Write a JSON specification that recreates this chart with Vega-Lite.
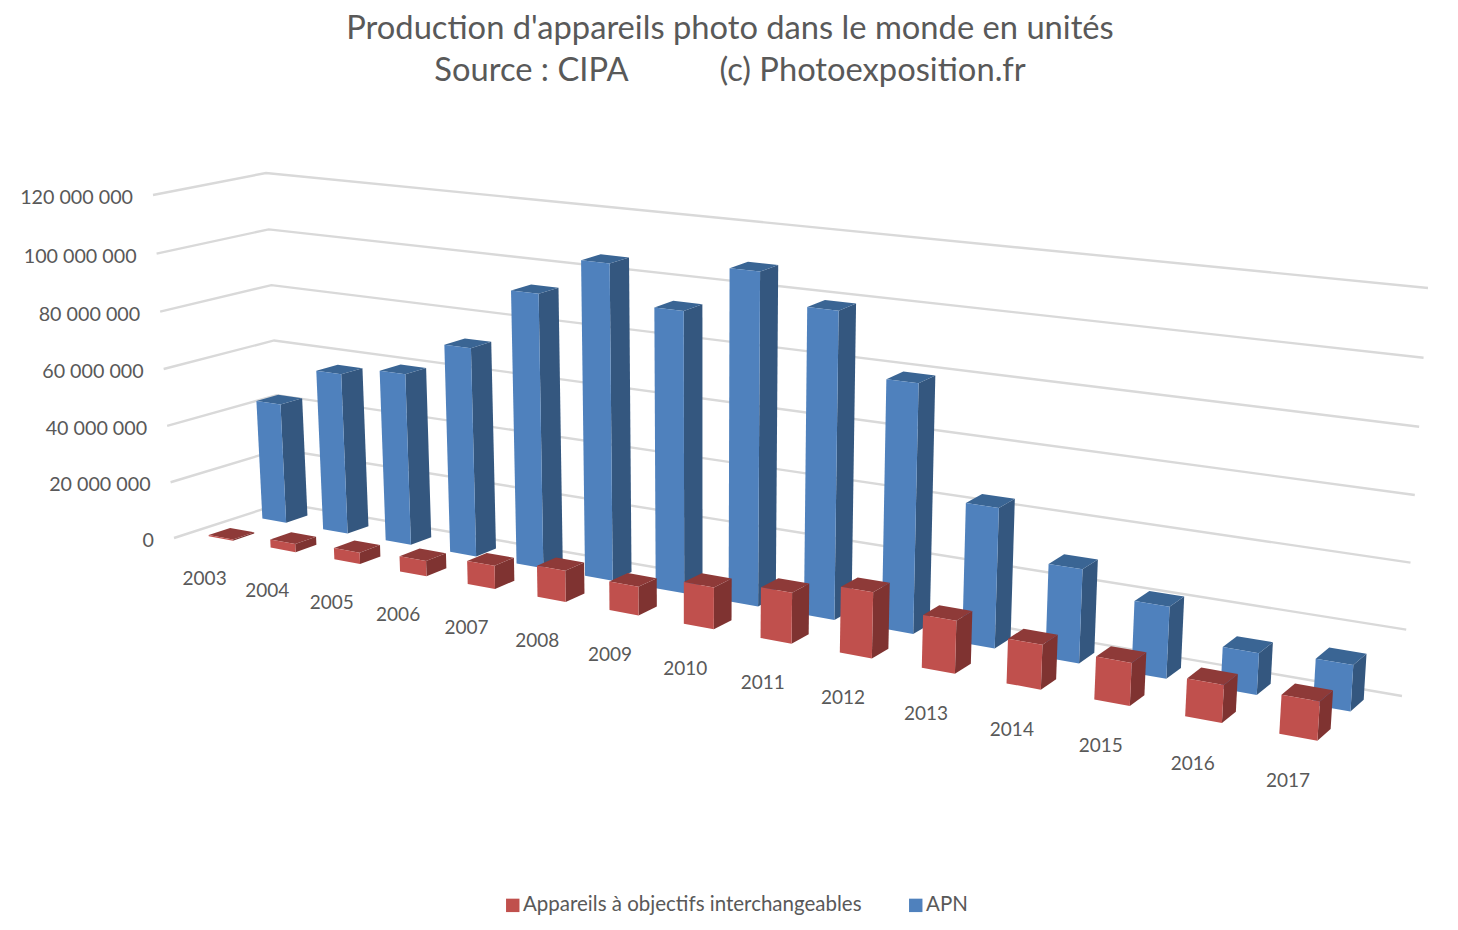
{
"$schema":"https://vega.github.io/schema/vega-lite/v6.json",
"width":1458,"height":930,"padding":0,"autosize":{"type":"none"},
"background":"white",
"config":{"view":{"stroke":null},"font":"Lato"},
"title":{"text":["Production d'appareils photo dans le monde en unités","Source : CIPA\u00a0\u00a0\u00a0\u00a0\u00a0\u00a0\u00a0\u00a0\u00a0\u00a0\u00a0(c) Photoexposition.fr"],"font":"Lato","fontSize":32.7,"fontWeight":"normal","color":"#595959","anchor":"middle","lineHeight":42,"dy":92,"dx":1},
"datasets":{
"bars":[
{"year":2003,"serie":"APN","value":42800000},{"year":2004,"serie":"APN","value":56800000},{"year":2005,"serie":"APN","value":60000000},{"year":2006,"serie":"APN","value":72100000},{"year":2007,"serie":"APN","value":93300000},{"year":2008,"serie":"APN","value":106000000},{"year":2009,"serie":"APN","value":93400000},{"year":2010,"serie":"APN","value":108800000},{"year":2011,"serie":"APN","value":99300000},{"year":2012,"serie":"APN","value":79700000},{"year":2013,"serie":"APN","value":44400000},{"year":2014,"serie":"APN","value":29400000},{"year":2015,"serie":"APN","value":22200000},{"year":2016,"serie":"APN","value":12700000},{"year":2017,"serie":"APN","value":13900000},
{"year":2003,"serie":"Appareils à objectifs interchangeables","value":400000},{"year":2004,"serie":"Appareils à objectifs interchangeables","value":2900000},{"year":2005,"serie":"Appareils à objectifs interchangeables","value":4000000},{"year":2006,"serie":"Appareils à objectifs interchangeables","value":5300000},{"year":2007,"serie":"Appareils à objectifs interchangeables","value":7900000},{"year":2008,"serie":"Appareils à objectifs interchangeables","value":10500000},{"year":2009,"serie":"Appareils à objectifs interchangeables","value":9500000},{"year":2010,"serie":"Appareils à objectifs interchangeables","value":13700000},{"year":2011,"serie":"Appareils à objectifs interchangeables","value":16400000},{"year":2012,"serie":"Appareils à objectifs interchangeables","value":21000000},{"year":2013,"serie":"Appareils à objectifs interchangeables","value":16600000},{"year":2014,"serie":"Appareils à objectifs interchangeables","value":13800000},{"year":2015,"serie":"Appareils à objectifs interchangeables","value":13100000},{"year":2016,"serie":"Appareils à objectifs interchangeables","value":11400000},{"year":2017,"serie":"Appareils à objectifs interchangeables","value":11500000}
],
"ticks":[{"tick":0,"label":"0"},{"tick":20000000,"label":"20 000 000"},{"tick":40000000,"label":"40 000 000"},{"tick":60000000,"label":"60 000 000"},{"tick":80000000,"label":"80 000 000"},{"tick":100000000,"label":"100 000 000"},{"tick":120000000,"label":"120 000 000"}]
},
"encoding":{
"x":{"field":"px","type":"quantitative","axis":null,"scale":{"domain":[0,1458],"nice":false,"zero":false}},
"y":{"field":"py","type":"quantitative","axis":null,"scale":{"domain":[0,930],"reverse":true,"nice":false,"zero":false}}
},
"layer":[
{"data":{"name":"ticks"},
"transform":[
{"calculate":"[0,1,2]","as":"ks"},{"flatten":["ks"],"as":["k"]},
{"calculate":"datum.k==2?1:0","as":"p"},{"calculate":"datum.k==0?1:0","as":"d"},{"calculate":"datum.tick/120000000","as":"v"},
{"calculate":"datum.v/(1+0.03*(1-datum.v))","as":"w"},
{"calculate":"(1-datum.w)*((1-datum.d)*((1-datum.p)*282+datum.p*1402)+datum.d*((1-datum.p)*174+datum.p*1337))+datum.w*((1-datum.d)*((1-datum.p)*266+datum.p*1428)+datum.d*((1-datum.p)*153+datum.p*1364))","as":"px"},
{"calculate":"(1-datum.w)*((1-datum.d)*((1-datum.p)*503+datum.p*696)+datum.d*((1-datum.p)*538+datum.p*755))+datum.w*((1-datum.d)*((1-datum.p)*173+datum.p*288)+datum.d*((1-datum.p)*195+datum.p*331))","as":"py"}
],
"layer":[
{"mark":{"type":"line","stroke":"#D9D9D9","strokeWidth":2.4},"encoding":{"detail":{"field":"tick"},"order":{"field":"k"}}},
{"transform":[{"filter":"datum.k==0"}],"mark":{"type":"text","align":"right","baseline":"middle","dx":-20,"dy":3,"fontSize":19.7,"font":"Lato","color":"#595959"},"encoding":{"text":{"field":"label"}}}
]},
{"data":{"name":"bars"},
"transform":[
{"calculate":"['side','top','front']","as":"faces"},{"flatten":["faces"],"as":["face"]},
{"calculate":"[0,1,2,3]","as":"ks"},{"flatten":["ks"],"as":["k"]},
{"calculate":"datum.serie=='APN'?0.35:0.85","as":"dF"},
{"calculate":"datum.dF-0.2","as":"dB"},
{"calculate":"datum.face=='side'||datum.k==1||datum.k==2?0.70:0.305","as":"f"},
{"calculate":"(datum.year-2003+datum.f)/15","as":"u"},
{"calculate":"datum.u/(1+0.275*(1-datum.u))","as":"p"},
{"calculate":"datum.face=='front'?datum.dF:datum.face=='side'?((datum.k==1||datum.k==2)?datum.dB:datum.dF):(datum.k<2?datum.dF:datum.dB)","as":"d"},
{"calculate":"datum.face=='top'||datum.k<2?datum.value/120000000:0","as":"v"},
{"calculate":"datum.v/(1+0.03*(1-datum.v))","as":"w"},
{"calculate":"(1-datum.w)*((1-datum.d)*((1-datum.p)*282+datum.p*1402)+datum.d*((1-datum.p)*174+datum.p*1337))+datum.w*((1-datum.d)*((1-datum.p)*266+datum.p*1428)+datum.d*((1-datum.p)*153+datum.p*1364))","as":"px"},
{"calculate":"(1-datum.w)*((1-datum.d)*((1-datum.p)*503+datum.p*696)+datum.d*((1-datum.p)*538+datum.p*755))+datum.w*((1-datum.d)*((1-datum.p)*173+datum.p*288)+datum.d*((1-datum.p)*195+datum.p*331))","as":"py"}
],
"encoding":{"detail":{"field":"year"},"order":{"field":"k"}},
"layer":[
{"transform":[{"filter":"datum.serie=='APN'&&datum.face=='side'"}],"mark":{"type":"line","fill":"#34577F","stroke":null}},
{"transform":[{"filter":"datum.serie=='APN'&&datum.face=='top'"}],"mark":{"type":"line","fill":"#3A6594","stroke":null}},
{"transform":[{"filter":"datum.serie=='APN'&&datum.face=='front'"}],"mark":{"type":"line","stroke":null},"encoding":{"fill":{"field":"serie","type":"nominal","scale":{"domain":["Appareils à objectifs interchangeables","APN"],"range":["#C0504D","#4F81BD"]},"legend":{"title":null,"orient":"none","legendX":502.5,"legendY":895,"direction":"horizontal","symbolType":"square","symbolSize":180,"symbolStrokeWidth":0,"labelFont":"Lato","labelFontSize":20.5,"labelColor":"#595959","labelOffset":0,"columnPadding":43,"labelLimit":500}}}},
{"transform":[{"filter":"datum.serie!='APN'&&datum.face=='side'"}],"mark":{"type":"line","fill":"#7F3331","stroke":null}},
{"transform":[{"filter":"datum.serie!='APN'&&datum.face=='top'"}],"mark":{"type":"line","fill":"#8E3A38","stroke":null}},
{"transform":[{"filter":"datum.serie!='APN'&&datum.face=='front'"}],"mark":{"type":"line","stroke":null},"encoding":{"fill":{"field":"serie","type":"nominal"}}}
]},
{"data":{"name":"bars"},
"transform":[
{"filter":"datum.serie=='APN'"},
{"calculate":"(datum.year-2003+0.5)/15","as":"u"},
{"calculate":"datum.u/(1+0.275*(1-datum.u))","as":"p"},
{"calculate":"174+1163*datum.p","as":"px"},
{"calculate":"538+217*datum.p","as":"py"}
],
"mark":{"type":"text","align":"center","baseline":"middle","dy":35.5,"fontSize":19,"font":"Lato","color":"#595959"},
"encoding":{"text":{"field":"year","type":"nominal"}}}
]
}
